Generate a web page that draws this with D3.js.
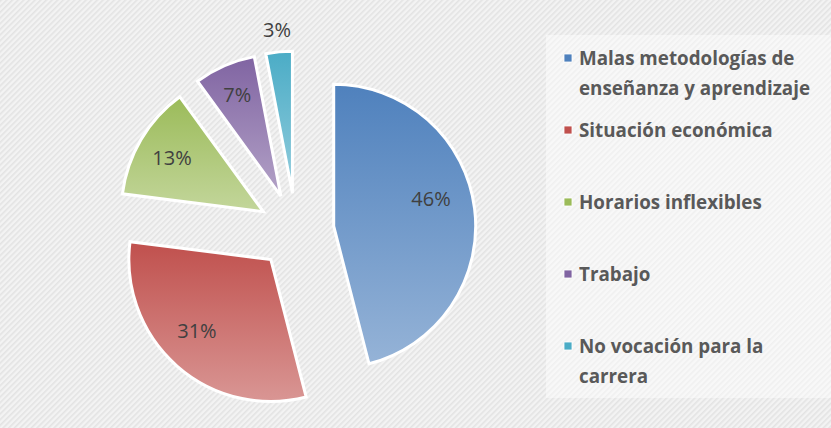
<!DOCTYPE html>
<html>
<head>
<meta charset="utf-8">
<script src="https://cdn.jsdelivr.net/npm/d3@7"></script>
<style>
  body { margin: 0; background: #fff; }
  svg { display: block; }
</style>
</head>
<body>
<div id="chart"></div>
<script>
// categorias y valores (porcentajes)
var categories = [
  "Malas metodologías de enseñanza y aprendizaje",
  "Situación económica",
  "Horarios inflexibles",
  "Trabajo",
  "No vocación para la carrera"
];
var values = [46, 31, 13, 7, 3];
var labels = ["46%", "31%", "13%", "7%", "3%"];
// legend lines (wrapped like the original)
var legendLines = [
  ["Malas metodologías de", "enseñanza y aprendizaje"],
  ["Situación económica"],
  ["Horarios inflexibles"],
  ["Trabajo"],
  ["No vocación para la", "carrera"]
];
var topColors = ["#4f81bd", "#c0504d", "#9bbb59", "#8064a2", "#4bacc6"];
var bottomColors = ["#95b3d7", "#d99694", "#c3d69b", "#b3a2c7", "#93cddd"];

var width = 831, height = 428;
var cx = 296, cy = 231, radius = 142, explode = 38;

var svg = d3.select("#chart")
  .append("svg")
  .attr("width", width)
  .attr("height", height);

var defs = svg.append("defs");

// striped background
var pat = defs.append("pattern")
  .attr("id", "stripes")
  .attr("patternUnits", "userSpaceOnUse")
  .attr("width", 4)
  .attr("height", 4)
  .attr("patternTransform", "rotate(45)");
pat.append("rect").attr("width", 4).attr("height", 4).attr("fill", "#f3f3f3");
pat.append("rect").attr("width", 1.6).attr("height", 4).attr("fill", "#e3e3e3");

svg.append("rect")
  .attr("width", width)
  .attr("height", height)
  .attr("fill", "url(#stripes)");

// gradients for each slice (dark top -> light bottom)
values.forEach(function(v, i) {
  var g = defs.append("linearGradient")
    .attr("id", "grad" + i)
    .attr("x1", 0).attr("y1", 0)
    .attr("x2", 0).attr("y2", 1);
  g.append("stop").attr("offset", "0%").attr("stop-color", topColors[i]);
  g.append("stop").attr("offset", "100%").attr("stop-color", bottomColors[i]);
});

var pie = d3.pie().sort(null).value(function(d) { return d; });
var arcs = pie(values);

var arc = d3.arc().innerRadius(0).outerRadius(radius);

var pieG = svg.append("g")
  .attr("transform", "translate(" + cx + "," + cy + ")");

// offset each slice along its mid angle
function offset(d) {
  var a = (d.startAngle + d.endAngle) / 2;
  return [Math.sin(a) * explode, -Math.cos(a) * explode];
}

var slices = pieG.selectAll("g.slice")
  .data(arcs)
  .enter()
  .append("g")
  .attr("class", "slice")
  .attr("transform", function(d) {
    var o = offset(d);
    return "translate(" + o[0] + "," + o[1] + ")";
  });

slices.append("path")
  .attr("d", arc)
  .attr("fill", function(d, i) { return "url(#grad" + i + ")"; })
  .attr("stroke", "#fff")
  .attr("stroke-width", 3)
  .attr("stroke-linejoin", "miter");

// data labels - excel doesnt put them exactly on the mid angle
var labelRadius = [101, 103, 106, 110, 164];
var labelFrac = [0.45, 0.54, 0.5, 0.5, 0.5];
slices.append("text")
  .attr("transform", function(d, i) {
    var a = d.startAngle + (d.endAngle - d.startAngle) * labelFrac[i];
    return "translate(" + Math.sin(a) * labelRadius[i] + "," + (-Math.cos(a) * labelRadius[i]) + ")";
  })
  .attr("text-anchor", "middle")
  .attr("dy", "0.36em")
  .style("font-family", "'Open Sans', sans-serif")
  .style("font-size", "20px")
  .style("fill", "#404040")
  .text(function(d, i) { return labels[i]; });

// legend
var legend = svg.append("g");
legend.append("rect")
  .attr("x", 546)
  .attr("y", 35)
  .attr("width", 290)
  .attr("height", 363)
  .attr("fill", "#ffffff")
  .attr("fill-opacity", 0.45);

var legendY = d3.scaleLinear().domain([0, 4]).range([58, 346]);

var items = legend.selectAll("g.item")
  .data(categories)
  .enter()
  .append("g")
  .attr("class", "item")
  .attr("transform", function(d, i) { return "translate(0," + legendY(i) + ")"; });

items.append("rect")
  .attr("x", 564)
  .attr("y", -4)
  .attr("width", 8)
  .attr("height", 8)
  .attr("fill", function(d, i) { return topColors[i]; })
  .attr("stroke", "#fff")
  .attr("stroke-width", 0.8);

items.append("text")
  .attr("x", 579)
  .attr("y", 0)
  .style("font-family", "'Open Sans', sans-serif")
  .style("font-weight", 700)
  .style("font-size", "18.8px")
  .style("fill", "#595959")
  .selectAll("tspan")
  .data(function(d, i) { return legendLines[i]; })
  .enter()
  .append("tspan")
  .attr("x", 579)
  .attr("dy", function(d, j) { return j === 0 ? "0.36em" : "30px"; })
  .text(function(d) { return d; });
</script>
</body>
</html>
